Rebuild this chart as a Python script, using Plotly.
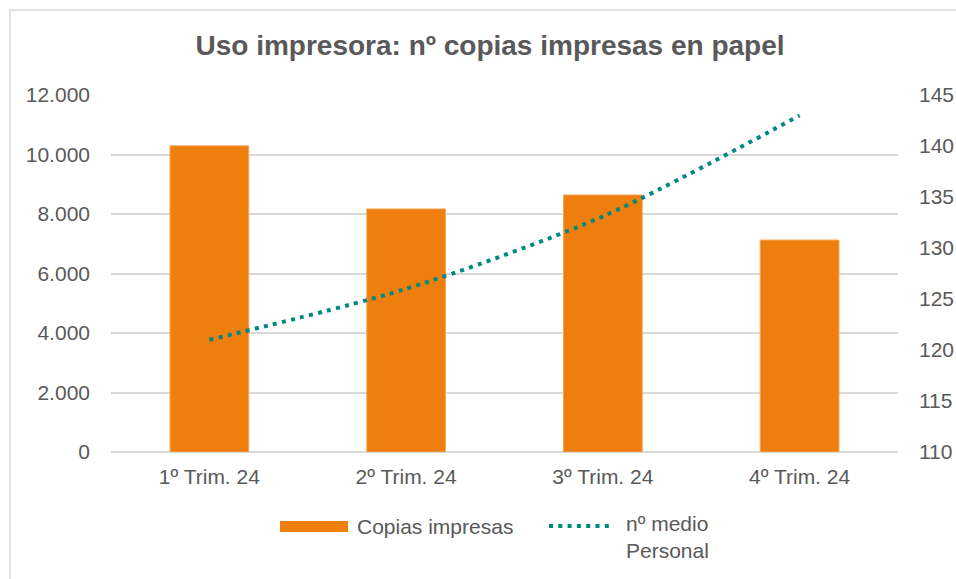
import plotly.graph_objects as go

categories = ["1º Trim. 24", "2º Trim. 24", "3º Trim. 24", "4º Trim. 24"]
copias = [10290, 8170, 8640, 7125]
personal = [121.0, 126.0, 133.1, 143.0]

W, H = 956, 579
L, R, T, B = 111, 898, 95, 452  # plot area in px

def px_x(px):
    return (px - L) / (R - L)

def px_y(py):
    return (B - py) / (B - T)

FONT = "Arial, 'Liberation Sans', sans-serif"
GREY = "#595959"
ORANGE = "#EE7F0E"
TEAL = "#00897F"
FS = 21

fig = go.Figure()
fig.add_trace(go.Bar(
    x=categories, y=copias, name="Copias impresas",
    marker=dict(color=ORANGE, line=dict(color="#F4A55A", width=1)),
    width=0.4, yaxis="y", showlegend=False,
))
fig.add_trace(go.Scatter(
    x=categories, y=personal, name="nº medio Personal", mode="lines",
    line=dict(color=TEAL, width=4, dash="4px,5.3px", shape="spline", smoothing=0.8),
    yaxis="y2", showlegend=False,
))

fig.update_layout(
    width=W, height=H,
    margin=dict(l=L, r=W - R, t=T, b=H - B, autoexpand=False),
    paper_bgcolor="white", plot_bgcolor="white",
    separators=",.",
    font=dict(family=FONT, size=FS, color=GREY),
    title=dict(text="<b>Uso impresora: nº copias impresas en papel</b>",
               x=490 / W, xanchor="center", xref="container",
               y=1 - 45 / H, yanchor="middle", yref="container",
               font=dict(family=FONT, size=28, color=GREY)),
    bargap=0.6,
    xaxis=dict(showgrid=False, showline=False, zeroline=False, ticks="",
               tickfont=dict(size=FS, color=GREY), ticklabelstandoff=10),
    yaxis=dict(range=[0, 12000], dtick=2000, tickformat=",d",
               showgrid=True, gridcolor="#D9D9D9", gridwidth=1.5,
               zeroline=True, zerolinecolor="#D9D9D9", zerolinewidth=1.5,
               showline=False, ticks="", ticklabelstandoff=20,
               tickfont=dict(size=FS, color=GREY)),
    yaxis2=dict(range=[110, 145], dtick=5, overlaying="y", side="right",
                showgrid=False, zeroline=False, showline=False, ticks="",
                ticklabelstandoff=20, tickfont=dict(size=FS, color=GREY)),
    showlegend=False,
)

# chart border (cropped at right/bottom in reference)
fig.add_shape(type="rect", xref="paper", yref="paper",
              x0=px_x(10), x1=px_x(W + 20), y0=px_y(H + 20), y1=px_y(10),
              line=dict(color="#D9D9D9", width=1.5), fillcolor="rgba(0,0,0,0)",
              layer="below")

# manual legend
fig.add_shape(type="rect", xref="paper", yref="paper",
              x0=px_x(280), x1=px_x(348), y0=px_y(532), y1=px_y(521),
              line=dict(width=0), fillcolor=ORANGE)
fig.add_annotation(xref="paper", yref="paper", x=px_x(355), y=px_y(526),
                   xanchor="left", yanchor="middle", showarrow=False,
                   text="Copias impresas", font=dict(size=FS, color=GREY))
fig.add_shape(type="line", xref="paper", yref="paper",
              x0=px_x(549), x1=px_x(612), y0=px_y(526), y1=px_y(526),
              line=dict(color=TEAL, width=4, dash="4px,5.3px"))
fig.add_annotation(xref="paper", yref="paper", x=px_x(624), y=px_y(510),
                   xanchor="left", yanchor="top", align="left", showarrow=False,
                   text="nº medio<br>Personal", font=dict(size=FS, color=GREY))

fig.write_html("out.html", config={"displayModeBar": False},
               post_script="document.body.style.margin='0';document.body.style.overflow='hidden';")
